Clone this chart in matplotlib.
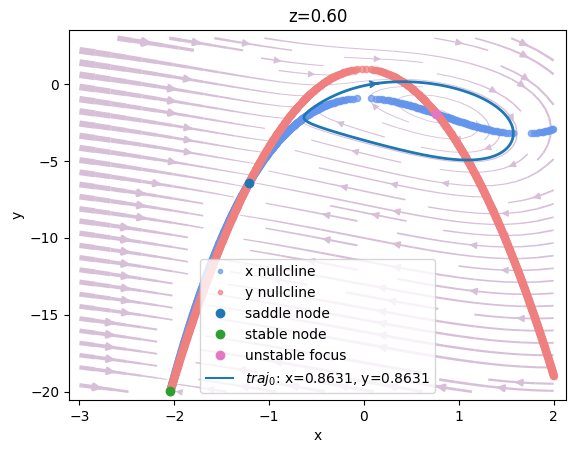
import numpy as np
import matplotlib
matplotlib.use("Agg")
import matplotlib.pyplot as plt

# ── Model parameters (Hindmarsh-Rose fast subsystem) ─────────
A_CUBIC = 1.0
B_QUAD = 2.5
C_Y = 1.0
D_Y = 5.0
I_EXT = 1.5
Z_SLOW = 0.60

X_RANGE = [-3.0, 2.0]
Y_RANGE = [-20.0, 3.0]

TRAJ_START = [0.8631, 0.8631]

# fixed points (refined below)
SADDLE_GUESS = [-1.21]
STABLE_GUESS = [-2.04]
FOCUS_GUESS = [0.77]


def field(x, y):
    dx = y - A_CUBIC * x**3 + B_QUAD * x**2 + I_EXT - Z_SLOW
    dy = C_Y - D_Y * x**2 - y
    return dx, dy


def fixed_point(x0):
    # newton on x^3 + (d-b) x^2 + (z - I - c) = 0
    x = x0
    for _ in range(50):
        g = A_CUBIC * x**3 + (D_Y - B_QUAD) * x**2 + (Z_SLOW - I_EXT - C_Y)
        dg = 3 * A_CUBIC * x**2 + 2 * (D_Y - B_QUAD) * x
        x -= g / dg
    return x, C_Y - D_Y * x**2


# ── Grid + streamplot ────────────────────────────────────────
xs = np.linspace(X_RANGE[0], X_RANGE[1], 200)
ys = np.linspace(Y_RANGE[0], Y_RANGE[1], 200)
XX, YY = np.meshgrid(xs, ys)
U, V = field(XX, YY)
speed = np.hypot(U, V)
lw = 0.5 + 4.5 * speed / speed.max()

fig = plt.figure(figsize=(5.74, 4.53), dpi=100)
ax = fig.add_axes([69 / 574, 53 / 453, 497 / 574, 370 / 453])

ax.streamplot(XX, YY, U, V, color="thistle", linewidth=lw, density=1)

# ── Nullclines (sample y, solve for x) ───────────────────────
y_samp = np.linspace(Y_RANGE[0], Y_RANGE[1], 1000)
xn_x, xn_y = [], []
for yv in y_samp:
    roots = np.roots([A_CUBIC, -B_QUAD, 0, -(yv + I_EXT - Z_SLOW)])
    for r in roots:
        if abs(r.imag) < 1e-9 and X_RANGE[0] <= r.real <= X_RANGE[1]:
            xn_x.append(r.real)
            xn_y.append(yv)
yn_x, yn_y = [], []
for yv in y_samp:
    if yv <= C_Y:
        r = np.sqrt((C_Y - yv) / D_Y)
        for s in (-r, r):
            if X_RANGE[0] <= s <= X_RANGE[1]:
                yn_x.append(s)
                yn_y.append(yv)

ax.plot(xn_x, xn_y, ".", ms=9, color="cornflowerblue", alpha=0.7, label="x nullcline")
ax.plot(yn_x, yn_y, ".", ms=9, color="lightcoral", alpha=0.7, label="y nullcline")

# ── Fixed points ─────────────────────────────────────────────
sx, sy = fixed_point(SADDLE_GUESS[0])
nx, ny = fixed_point(STABLE_GUESS[0])
fx, fy = fixed_point(FOCUS_GUESS[0])
ax.plot(sx, sy, "o", color="tab:blue", label="saddle node")
ax.plot(nx, ny, "o", color="tab:green", label="stable node")
ax.plot(fx, fy, "o", color="tab:pink", label="unstable focus")

# ── Trajectory (RK4) ─────────────────────────────────────────
dt = 0.001
n_steps = 80000
px, py = np.zeros(n_steps), np.zeros(n_steps)
x, y = TRAJ_START
for i in range(n_steps):
    px[i], py[i] = x, y
    a1, b1 = field(x, y)
    a2, b2 = field(x + dt / 2 * a1, y + dt / 2 * b1)
    a3, b3 = field(x + dt / 2 * a2, y + dt / 2 * b2)
    a4, b4 = field(x + dt * a3, y + dt * b3)
    x += dt / 6 * (a1 + 2 * a2 + 2 * a3 + a4)
    y += dt / 6 * (b1 + 2 * b2 + 2 * b3 + b4)

# keep the last full cycle only (between upward crossings of x=0.14 on top)
up = np.where((px[:-1] < 0.14) & (px[1:] >= 0.14) & (py[:-1] > -1))[0]
i0, i1 = up[-2], up[-1] + 2
tx, ty = px[i0:i1], py[i0:i1]
ax.plot(tx, ty, color="tab:blue", lw=2,
        label=r"$traj_0$: x=%.4f, y=%.4f" % tuple(TRAJ_START))

# arrow at the start of the drawn cycle
ax.annotate("", xy=(tx[8], ty[8]), xytext=(tx[0], ty[0]),
            arrowprops=dict(arrowstyle="->", color="tab:blue", lw=1.5))

ax.set_xlim(-3.11, 2.13)
ax.set_ylim(-20.54, 3.53)
ax.set_xlabel("x")
ax.set_ylabel("y")
ax.set_title("z=%.2f" % Z_SLOW)
leg = ax.legend(loc="lower center")
for h in leg.legend_handles[:2]:
    h.set_markersize(6)
leg.legend_handles[-1].set_linewidth(1.5)

fig.savefig("out.png", dpi=100)
